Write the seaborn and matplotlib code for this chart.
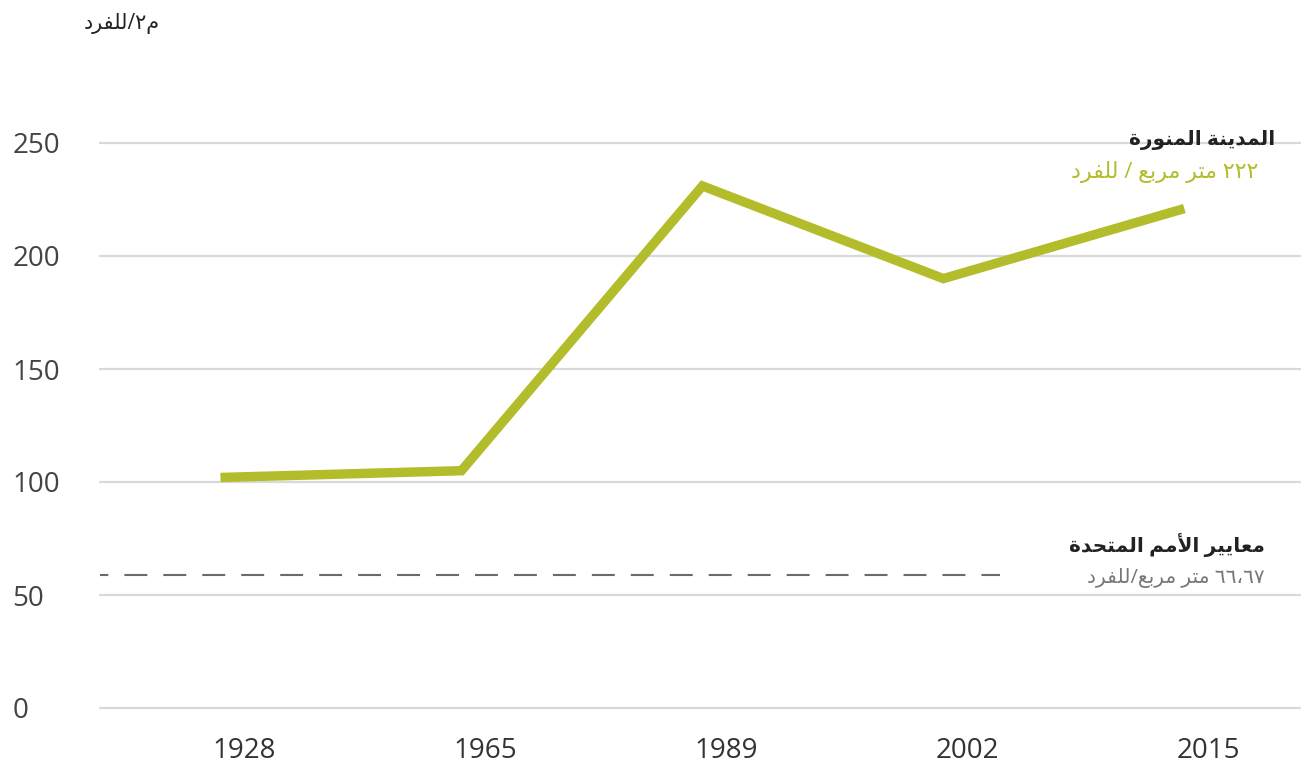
import re
import matplotlib
matplotlib.use('Agg')
import matplotlib.pyplot as plt
import matplotlib.transforms as mtransforms
import seaborn as sns
import pandas as pd

# values
years = ['1928', '1965', '1989', '2002', '2015']
area_per_person = [102, 105, 231, 190, 221]
un_level = 59
y_ticks = [0, 50, 100, 150, 200, 250]

unit_label = 'م٢/للفرد'
city_name = 'المدينة المنورة'
city_value = '٢٢٢ متر مربع / للفرد'
un_name = 'معايير الأمم المتحدة'
un_value = '٦٦،٦٧ متر مربع/للفرد'

GREEN = '#b3bd2b'
GRID = '#d9d9d9'

# matplotlib has no arabic shaping, so do a small one by hand
FORMS = {
    'ا': ('\uFE8D', '\uFE8E', None, None),
    'أ': ('\uFE83', '\uFE84', None, None),
    'ب': ('\uFE8F', '\uFE90', '\uFE91', '\uFE92'),
    'ة': ('\uFE93', '\uFE94', None, None),
    'ت': ('\uFE95', '\uFE96', '\uFE97', '\uFE98'),
    'ح': ('\uFEA1', '\uFEA2', '\uFEA3', '\uFEA4'),
    'د': ('\uFEA9', '\uFEAA', None, None),
    'ر': ('\uFEAD', '\uFEAE', None, None),
    'ع': ('\uFEC9', '\uFECA', '\uFECB', '\uFECC'),
    'ف': ('\uFED1', '\uFED2', '\uFED3', '\uFED4'),
    'ل': ('\uFEDD', '\uFEDE', '\uFEDF', '\uFEE0'),
    'م': ('\uFEE1', '\uFEE2', '\uFEE3', '\uFEE4'),
    'ن': ('\uFEE5', '\uFEE6', '\uFEE7', '\uFEE8'),
    'و': ('\uFEED', '\uFEEE', None, None),
    'ي': ('\uFEF1', '\uFEF2', '\uFEF3', '\uFEF4'),
}
LAM_ALEF = {'ا': ('\uFEFB', '\uFEFC'), 'أ': ('\uFEF7', '\uFEF8')}


def shape(text):
    units = []
    i = 0
    while i < len(text):
        c = text[i]
        if c == 'ل' and i + 1 < len(text) and text[i + 1] in LAM_ALEF:
            units.append(('LA', text[i + 1]))
            i += 2
        else:
            units.append(('C', c))
            i += 1

    def is_ar(u):
        return u[0] == 'LA' or u[1] in FORMS

    def dual(u):
        return u[0] == 'C' and u[1] in FORMS and FORMS[u[1]][2] is not None

    out = []
    for k, u in enumerate(units):
        prev = units[k - 1] if k > 0 else None
        nxt = units[k + 1] if k + 1 < len(units) else None
        jp = prev is not None and dual(prev) and is_ar(u)
        jn = dual(u) and nxt is not None and is_ar(nxt)
        if u[0] == 'LA':
            out.append(LAM_ALEF[u[1]][1 if jp else 0])
        elif u[1] in FORMS:
            f = FORMS[u[1]]
            if jp and jn:
                out.append(f[3])
            elif jp:
                out.append(f[1])
            elif jn:
                out.append(f[2])
            else:
                out.append(f[0])
        else:
            out.append(u[1])
    return ''.join(out)


DIGITS = r'[٠-٩0-9](?:[٠-٩0-9،.]*[٠-٩0-9])?'


def rtl(text):
    # visual order for a right-to-left line, digit runs stay left-to-right
    tokens = re.split('(' + DIGITS + ')', shape(text))
    return ''.join(t if re.fullmatch(DIGITS, t) else t[::-1] for t in reversed(tokens))


df = pd.DataFrame({'pos': range(len(years)), 'area': area_per_person})

sns.set_style('white')
plt.rcParams['font.family'] = ['Open Sans', 'DejaVu Sans']

W, H = 1306, 767
fig = plt.figure(figsize=(W / 100, H / 100), dpi=100)
ax = fig.add_axes([100 / W, 1 - 708 / H, 1200 / W, 565 / H])

sns.lineplot(data=df, x='pos', y='area', color=GREEN, lw=6.8, ax=ax,
             solid_capstyle='butt', solid_joinstyle='miter', zorder=3)
ax.axhline(un_level, xmin=0, xmax=0.75, color='#6a6a6a', lw=1.5,
           linestyle=(7, (11, 7.7)), zorder=2)

ax.set_xlim(-0.5, 4.48)
ax.set_ylim(0, 250)
ax.set_yticks(y_ticks)
ax.set_xticks(df['pos'])
ax.set_xticklabels(years)
ax.set_xlabel('')
ax.set_ylabel('')
ax.yaxis.grid(True, color=GRID, lw=1.6)
ax.xaxis.grid(False)
for line in ax.get_ygridlines():
    line.set_clip_on(False)
sns.despine(ax=ax, left=True, bottom=True)

ax.tick_params(axis='x', length=0, pad=21, labelsize=20, labelcolor='#333333')
ax.tick_params(axis='y', length=0, pad=63, labelsize=20, labelcolor='#444444')
for lbl in ax.get_yticklabels():
    lbl.set_horizontalalignment('left')
shift = mtransforms.ScaledTranslation(0.24, 0, fig.dpi_scale_trans)
for lbl in ax.get_xticklabels():
    lbl.set_transform(lbl.get_transform() + shift)

fig.text(160 / W, 1 - 24 / H, rtl(unit_label), ha='right', va='center',
         fontsize=15, color='#222222')
fig.text(1275 / W, 1 - 140 / H, rtl(city_name), ha='right', va='center',
         fontsize=14.5, fontweight='bold', color='#222222')
fig.text(1258 / W, 1 - 172 / H, rtl(city_value), ha='right', va='center',
         fontsize=16, color=GREEN)
fig.text(1265 / W, 1 - 545 / H, rtl(un_name), ha='right', va='center',
         fontsize=14.5, fontweight='bold', color='#222222')
fig.text(1265 / W, 1 - 578 / H, rtl(un_value), ha='right', va='center',
         fontsize=14.5, color='#777777')

fig.savefig('out.png', dpi=100)
